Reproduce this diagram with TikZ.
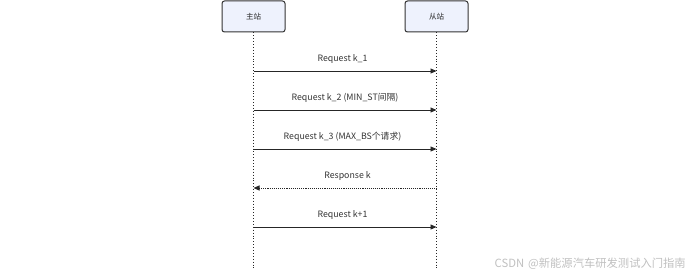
\documentclass[tikz,border=0pt]{standalone}
\usepackage{fontspec}
\setmainfont{Noto Sans CJK SC}
\usetikzlibrary{arrows.meta}
\definecolor{boxfill}{HTML}{EEF2FD}
\definecolor{boxdraw}{HTML}{333333}
\definecolor{wm}{HTML}{C0C0C0}
\tikzset{
  actor/.style={draw=boxdraw, fill=boxfill, rounded corners=2.5pt, line width=1pt,
    minimum width=63pt, minimum height=31pt, font=\fontsize{7.5}{9}\selectfont, text=black!85, inner sep=0pt},
  life/.style={draw=black!85, line width=0.9pt, dotted},
  msg/.style={draw=black!85, line width=0.9pt, -{Triangle[length=6pt,width=5pt]}},
  reply/.style={draw=black!85, line width=0.9pt, densely dotted, -{Triangle[length=6pt,width=5pt]}},
  lbl/.style={font=\fontsize{8.8}{10}\selectfont, text=black!80, inner sep=0pt}
}
\begin{document}
\begin{tikzpicture}[x=1pt,y=-1pt]
\useasboundingbox (0,0) rectangle (690,278);
\node[actor] (m) at (253.5,16.5) {主站};
\node[actor] (s) at (436.5,16.5) {从站};
\coordinate (mb) at (253.5,270);
\coordinate (sb) at (436.5,270);
\draw[life] (m.south) -- (mb);
\draw[life] (s.south) -- (sb);
% messages
\coordinate (m1) at (253.5,71); \coordinate (s1) at (436.5,71);
\coordinate (m2) at (253.5,110); \coordinate (s2) at (436.5,110);
\coordinate (m3) at (253.5,149); \coordinate (s3) at (436.5,149);
\coordinate (m4) at (253.5,188); \coordinate (s4) at (436.5,188);
\coordinate (m5) at (253.5,227); \coordinate (s5) at (436.5,227);
\draw[msg] (m1) -- (s1);
\node[lbl] (l1) at (342.5,59) {Request k\_1};
\draw[msg] (m2) -- (s2);
\node[lbl] (l2) at (345,98) {Request k\_2 (MIN\_ST间隔)};
\draw[msg] (m3) -- (s3);
\node[lbl] (l3) at (342.5,137) {Request k\_3 (MAX\_BS个请求)};
\draw[reply] (s4) -- (m4);
\node[lbl] (l4) at (347.5,176) {Response k};
\draw[msg] (m5) -- (s5);
\node[lbl] (l5) at (342.5,215) {Request k+1};
\node[font=\fontsize{11.3}{13}\selectfont, text=wm, anchor=east, inner sep=0pt] (wmk) at (686,264) {CSDN\hspace{4pt}@新能源汽车研发测试入门指南};
\end{tikzpicture}
\end{document}
